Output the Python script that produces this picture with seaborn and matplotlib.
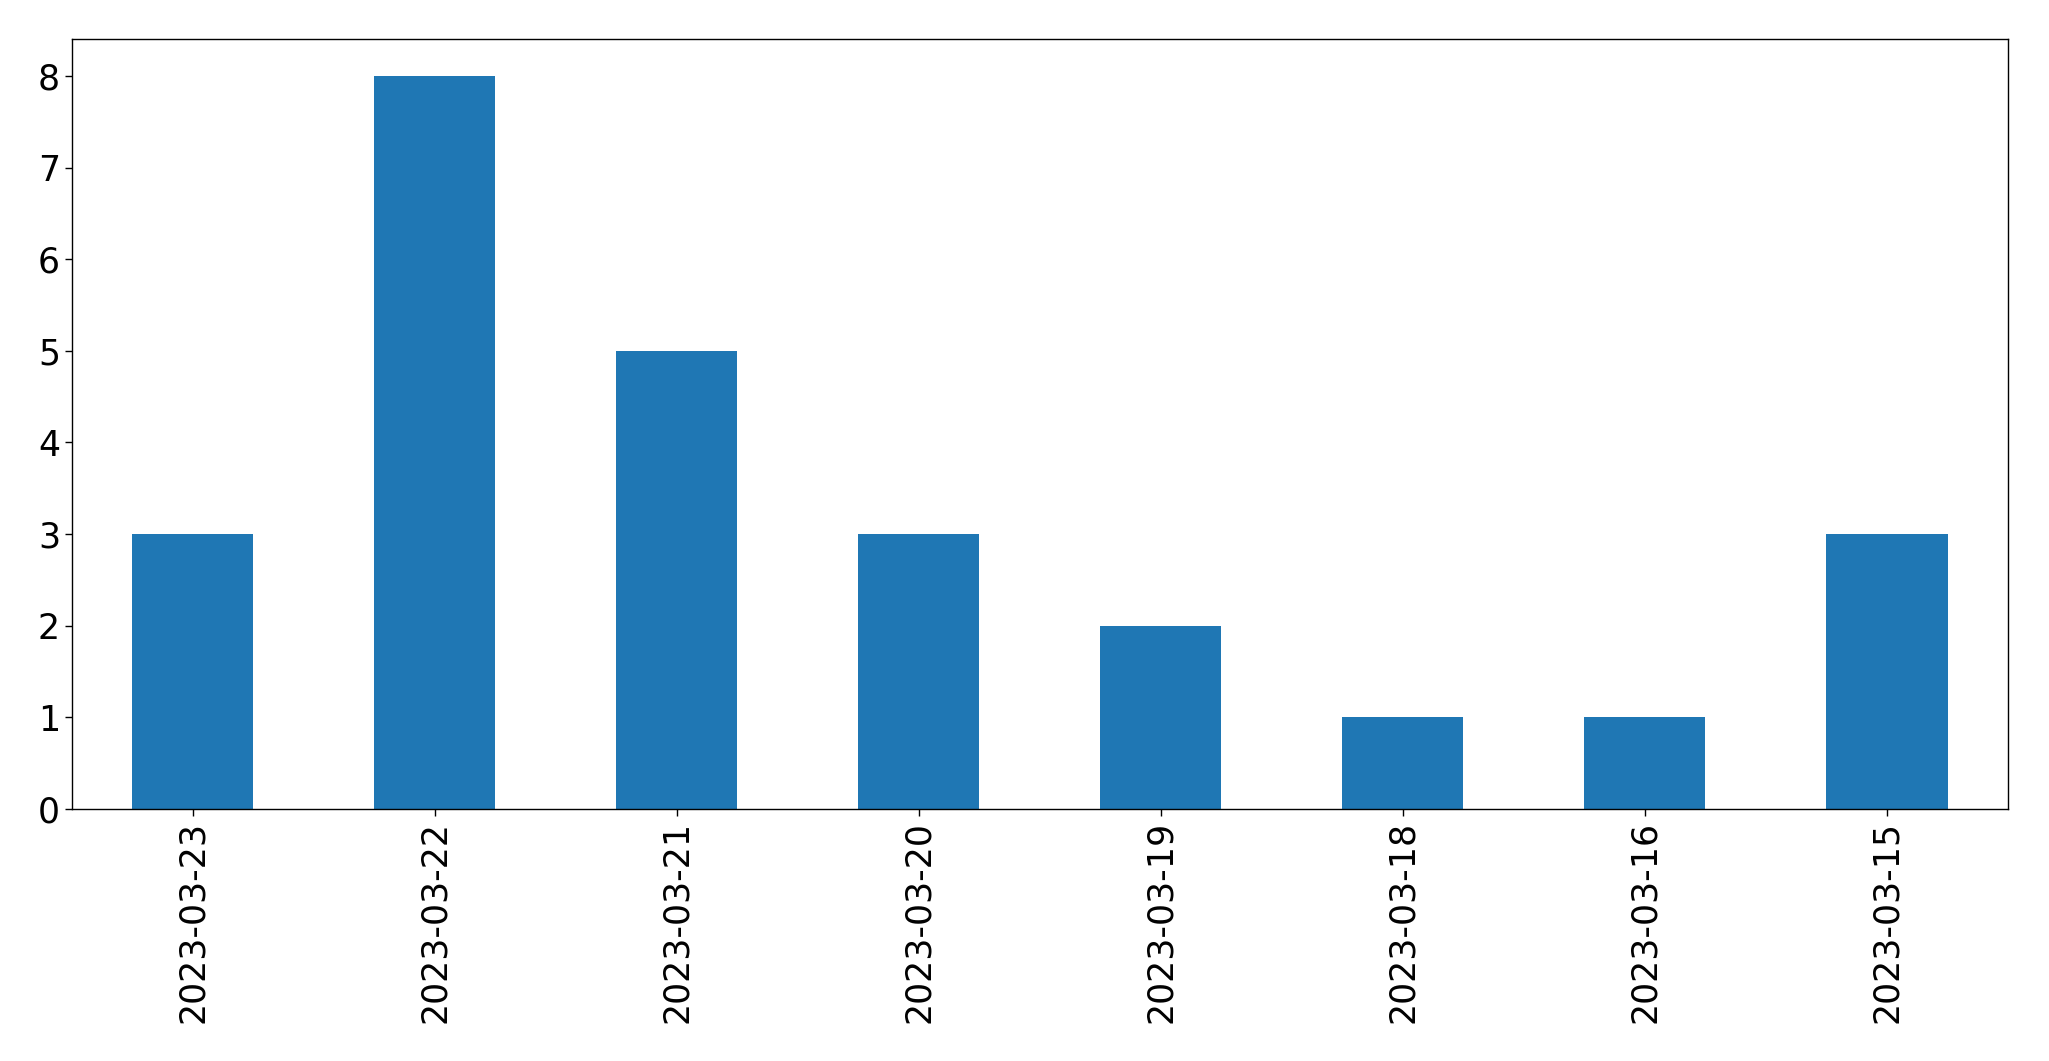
import matplotlib
matplotlib.use("Agg")
import matplotlib.pyplot as plt
import seaborn as sns
import pandas as pd

dates = ["2023-03-23", "2023-03-22", "2023-03-21", "2023-03-20",
         "2023-03-19", "2023-03-18", "2023-03-16", "2023-03-15"]
counts = [3, 8, 5, 3, 2, 1, 1, 3]

sns.set_style("ticks", {"axes.edgecolor": "black", "text.color": "black",
                        "xtick.color": "black", "ytick.color": "black",
                        "axes.labelcolor": "black"})
plt.rcParams['font.family'] = ['DejaVu Sans']

df = pd.DataFrame({"date": dates, "count": counts})
fig, ax = plt.subplots(figsize=(20.49, 10.61), dpi=100)
sns.barplot(data=df, x="date", y="count", color="#1f77b4", saturation=1,
            width=0.5, linewidth=0, ax=ax)
ax.set_xlim(-0.5, len(dates) - 0.5)
ax.set_ylim(0, 8.4)
ax.set_xlabel("")
ax.set_ylabel("")
ax.tick_params(axis="both", labelsize=25, colors="black", length=4.9, width=1)
ax.tick_params(axis="x", labelrotation=90)
for s in ax.spines.values():
    s.set_visible(True)
    s.set_linewidth(1)
    s.set_color("black")
fig.subplots_adjust(left=0.035, right=0.980, top=0.963, bottom=0.2375)
fig.savefig("out.png", dpi=100)
